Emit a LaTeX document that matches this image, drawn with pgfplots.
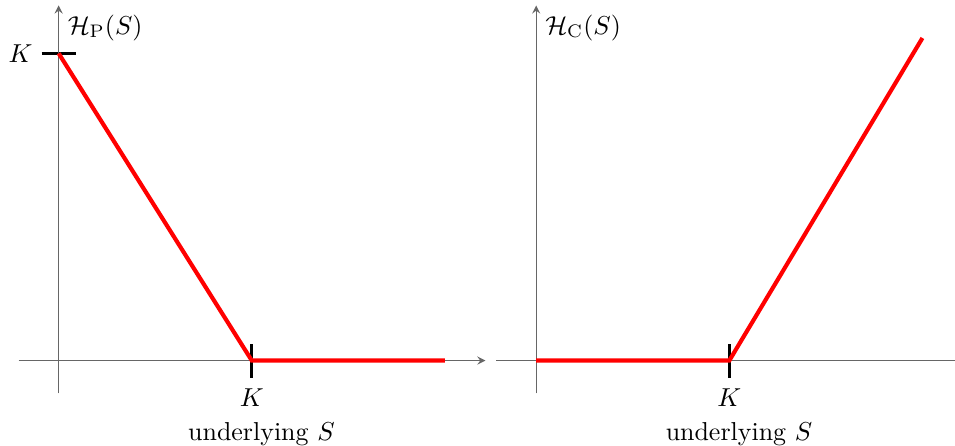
\documentclass[border=0pt]{standalone}
\usepackage{pgfplots}
\pgfplotsset{compat=1.18}
\begin{document}
\begin{tikzpicture}
\pgfplotsset{
  payoff/.style={
    axis lines=middle,
    anchor=origin,
    x=74.5pt, y=118.5pt,
    xmin=-0.207, xmax=2.21,
    % a little headroom above the arrow tip
    ymin=-0.107, ymax=1.172,
    axis line style={gray!80!black},
    y axis line style={shorten >=1.9pt},
    tick style={black, very thick},
    major tick length=13.1pt,
    tick align=center,
    xtick={1}, xticklabels={$K$},
    xticklabel style={anchor=north, yshift=-0.8pt},
    xlabel={underlying $S$},
    xlabel style={at={(axis cs:1.05,0)}, anchor=north, inner ysep=0pt, yshift=-23.6pt},
    ylabel style={at={(axis cs:0,1.156)}, anchor=north west, rotate=0},
  }
}
% put payoff
\begin{axis}[payoff, at={(0pt,0pt)},
  ytick={1}, yticklabels={$K$},
  yticklabel style={anchor=east, xshift=0pt},
  ylabel={$\mathcal{H}_{\mathrm{P}}(S)$}]
\addplot[red, ultra thick] coordinates {(0,1) (1,0) (2,0)};
\end{axis}
% call payoff
\begin{axis}[payoff, at={(184.2pt,0pt)},
  xmax=2.166,
  x axis line style={-},
  ytick=\empty,
  ylabel={$\mathcal{H}_{\mathrm{C}}(S)$}]
\addplot[red, ultra thick] coordinates {(0,0) (1,0) (2,1.05)};
\end{axis}
\end{tikzpicture}
\end{document}
